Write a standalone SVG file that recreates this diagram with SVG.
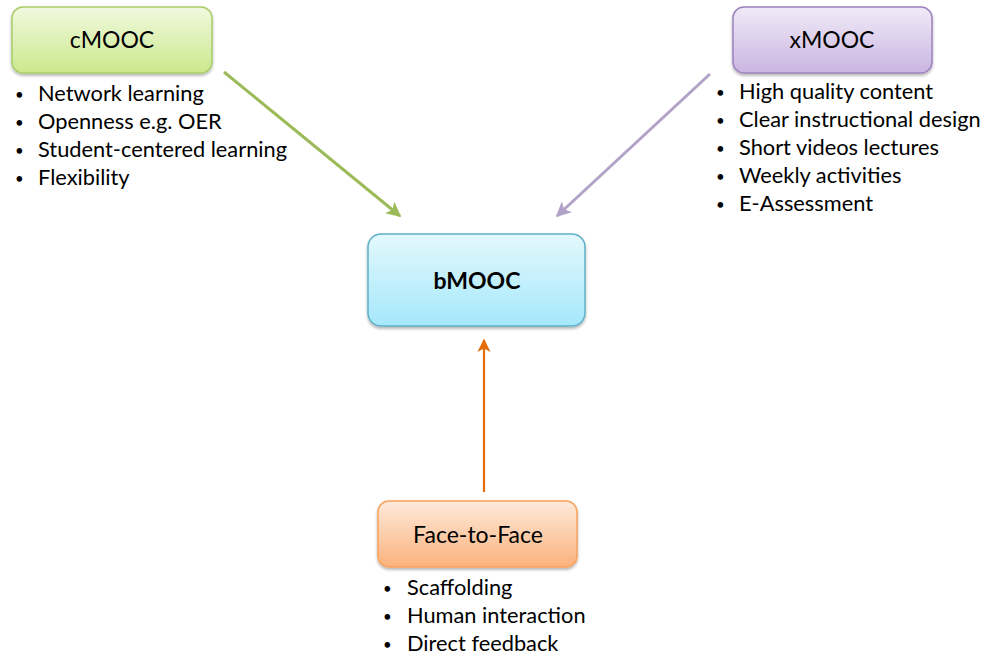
<svg xmlns="http://www.w3.org/2000/svg" width="983" height="655" viewBox="0 0 983 655">
<defs>
<linearGradient id="gG" x1="0" y1="0" x2="0" y2="1"><stop offset="0" stop-color="#f1f9df"/><stop offset="1" stop-color="#cbe98c"/></linearGradient>
<linearGradient id="gP" x1="0" y1="0" x2="0" y2="1"><stop offset="0" stop-color="#f1ebf7"/><stop offset="1" stop-color="#c9b5e1"/></linearGradient>
<linearGradient id="gB" x1="0" y1="0" x2="0" y2="1"><stop offset="0" stop-color="#e3f8fd"/><stop offset="1" stop-color="#a5e8fb"/></linearGradient>
<linearGradient id="gO" x1="0" y1="0" x2="0" y2="1"><stop offset="0" stop-color="#fdeadb"/><stop offset="1" stop-color="#fbb27c"/></linearGradient>
<filter id="sh" x="-10%" y="-10%" width="120%" height="130%"><feDropShadow dx="0" dy="2" stdDeviation="1.5" flood-color="#000" flood-opacity="0.3"/></filter>
<marker id="aG" viewBox="0 0 10 10" refX="9" refY="5" markerWidth="5" markerHeight="5" orient="auto" markerUnits="strokeWidth"><path d="M0,0 L10,5 L0,10 L2.5,5 Z" fill="#9bbb59"/></marker>
<marker id="aP" viewBox="0 0 10 10" refX="9" refY="5" markerWidth="5" markerHeight="5" orient="auto" markerUnits="strokeWidth"><path d="M0,0 L10,5 L0,10 L2.5,5 Z" fill="#b3a2c7"/></marker>
<marker id="aO" viewBox="0 0 10 10" refX="9" refY="5" markerWidth="6" markerHeight="6" orient="auto" markerUnits="strokeWidth"><path d="M0,0 L10,5 L0,10 L2.5,5 Z" fill="#e46c0a"/></marker>
</defs>
<style>
.box{stroke-width:1.5;filter:url(#sh)}
.t{font-family:Lato,"Open Sans",sans-serif;font-size:23px;fill:#000;text-anchor:middle}
.b{font-family:Lato,"Open Sans",sans-serif;font-size:21.8px;fill:#000}
.d{font-size:15px}
</style>
<rect width="983" height="655" fill="#fff"/>
<g id="connectors" fill="none">
<line x1="224" y1="72" x2="400" y2="216" stroke="#9bbb59" stroke-width="3" marker-end="url(#aG)"/>
<line x1="710" y1="74" x2="557" y2="216" stroke="#b3a2c7" stroke-width="3" marker-end="url(#aP)"/>
<line x1="484" y1="492" x2="484" y2="340" stroke="#e46c0a" stroke-width="2.2" marker-end="url(#aO)"/>
</g>
<g id="cMOOC">
<rect class="box" x="12" y="7" width="200" height="66" rx="11" fill="url(#gG)" stroke="#a9cd6a"/>
<text class="t" x="112" y="48">cMOOC</text>
<text class="b"><tspan class="d" x="15" y="100">•</tspan><tspan x="38" y="101">Network learning</tspan><tspan class="d" x="15" y="128">•</tspan><tspan x="38" y="129">Openness e.g. OER</tspan><tspan class="d" x="15" y="156">•</tspan><tspan x="38" y="157">Student-centered learning</tspan><tspan class="d" x="15" y="184">•</tspan><tspan x="38" y="185">Flexibility</tspan></text>
</g>
<g id="xMOOC">
<rect class="box" x="733" y="7" width="199" height="66" rx="11" fill="url(#gP)" stroke="#9d83c0"/>
<text class="t" x="832" y="48">xMOOC</text>
<text class="b"><tspan class="d" x="716" y="98">•</tspan><tspan x="739" y="99">High quality content</tspan><tspan class="d" x="716" y="126">•</tspan><tspan x="739" y="127">Clear instructional design</tspan><tspan class="d" x="716" y="154">•</tspan><tspan x="739" y="155">Short videos lectures</tspan><tspan class="d" x="716" y="182">•</tspan><tspan x="739" y="183">Weekly activities</tspan><tspan class="d" x="716" y="210">•</tspan><tspan x="739" y="211">E-Assessment</tspan></text>
</g>
<g id="bMOOC">
<rect class="box" x="368" y="234" width="217" height="92" rx="13" fill="url(#gB)" stroke="#5fb0c8"/>
<text class="t" x="477" y="289" font-weight="bold" font-size="25.5">bMOOC</text>
</g>
<g id="face">
<rect class="box" x="378" y="501" width="199" height="66" rx="11" fill="url(#gO)" stroke="#f7a35c"/>
<text class="t" x="478" y="543" font-size="24">Face-to-Face</text>
<text class="b"><tspan class="d" x="383" y="594">•</tspan><tspan x="407" y="595">Scaffolding</tspan><tspan class="d" x="383" y="622">•</tspan><tspan x="407" y="623">Human interaction</tspan><tspan class="d" x="383" y="650">•</tspan><tspan x="407" y="651">Direct feedback</tspan></text>
</g>
</svg>
